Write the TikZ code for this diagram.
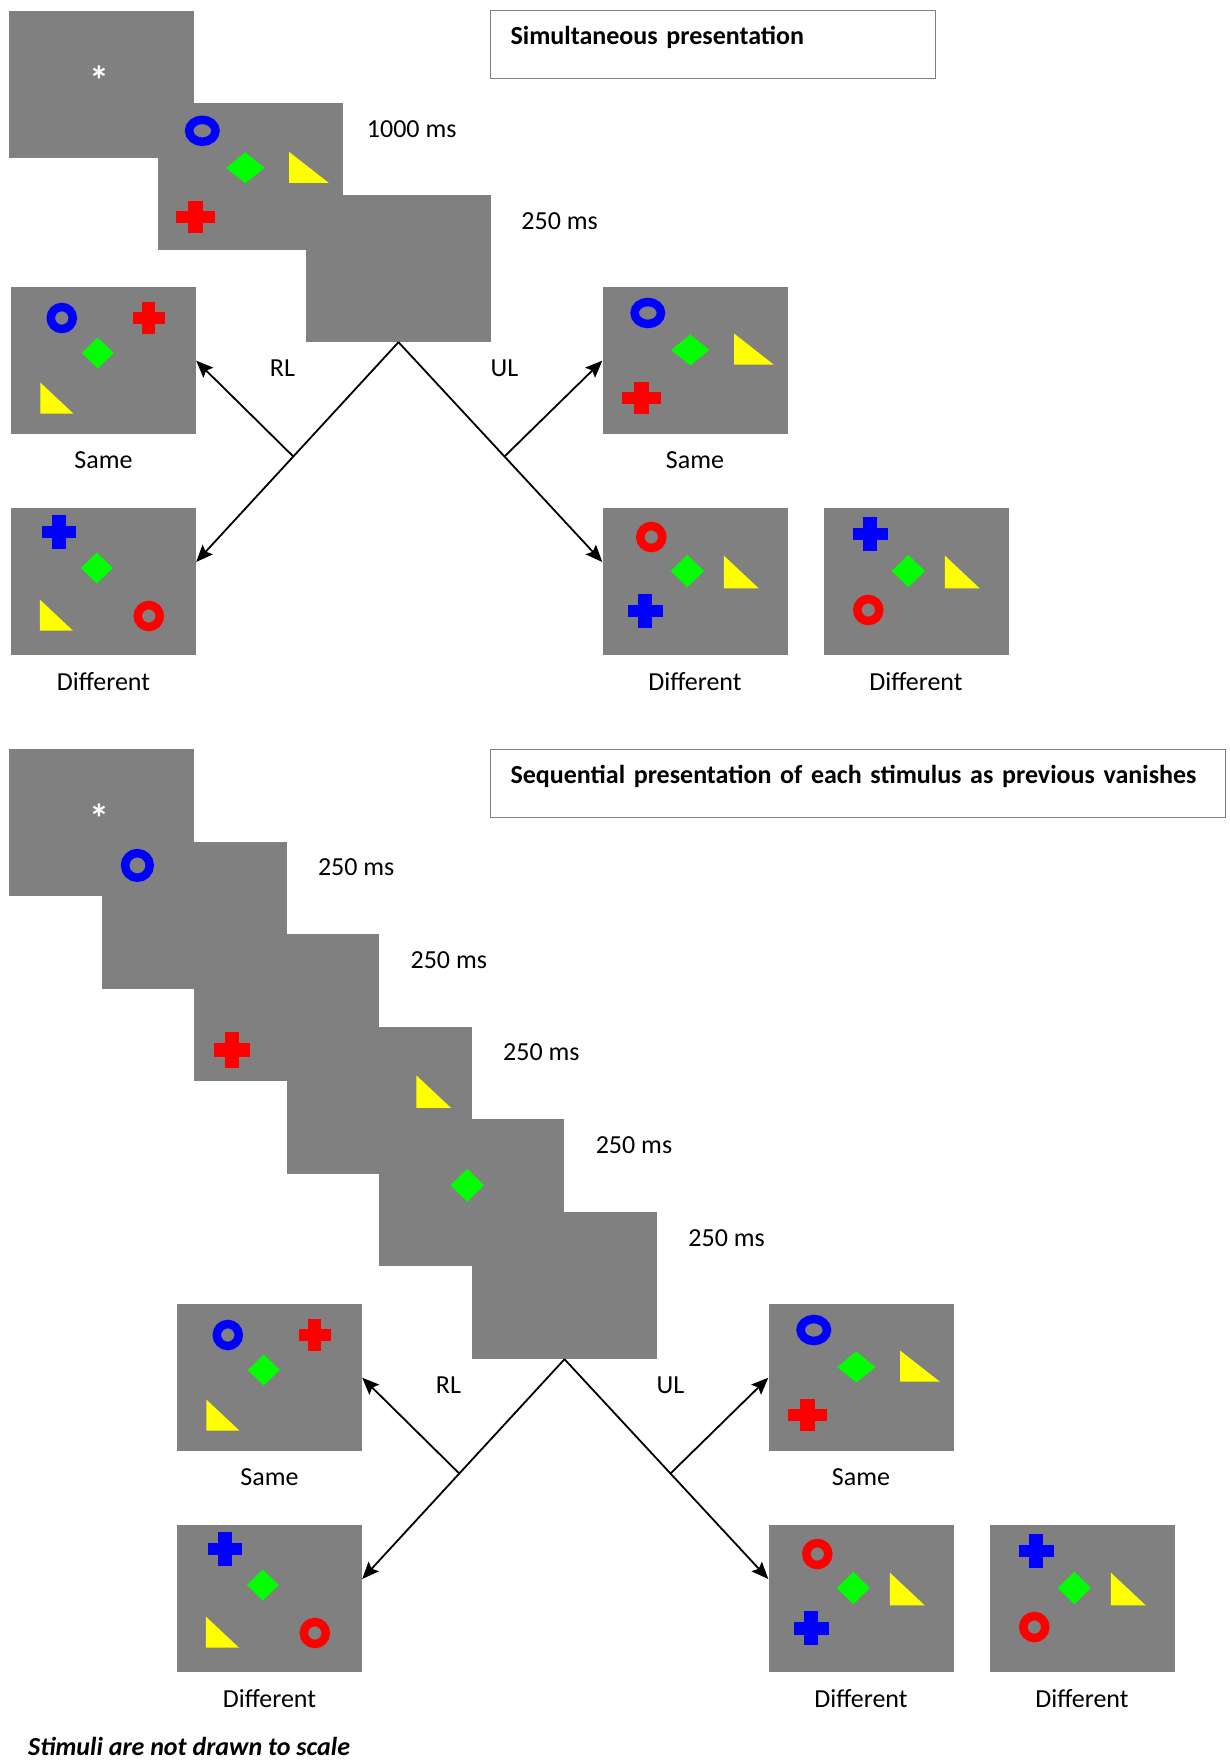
\documentclass[tikz,border=0pt]{standalone}
\usepackage{fontspec}
\setmainfont{Carlito}
\usetikzlibrary{arrows.meta}

\definecolor{screengray}{RGB}{128,128,128}
\definecolor{stimblue}{RGB}{0,0,255}
\definecolor{stimred}{RGB}{255,0,0}
\definecolor{stimgreen}{RGB}{0,255,0}
\definecolor{stimyellow}{RGB}{255,255,0}

\begin{document}
\begin{tikzpicture}[x=1pt, y=-1pt,
        screen/.style = {rectangle, fill=screengray, minimum width=185pt, minimum height=147pt, inner sep=0pt},
        header/.style = {draw=screengray, line width=1.2pt, anchor=north west, align=left, inner xsep=20pt, inner ysep=0pt, text height=34pt, text depth=34pt, font=\fontsize{26}{31}\selectfont\bfseries},
        lbl/.style = {font=\fontsize{26}{31}\selectfont, inner sep=0pt},
        fixmark/.style = {text=white, font=\fontsize{40}{40}\selectfont\bfseries, inner sep=0pt},
        ring/.pic = {\draw[line width=8.5pt] (0,0) ellipse [x radius=11, y radius=11];},
        plus/.pic = {\fill (-16,-6) rectangle (16,6); \fill (-6.5,-16) rectangle (6.5,16);},
        rhombus/.pic = {\fill (-16,0) -- (0,-15.5) -- (16,0) -- (0,15.5) -- cycle;},
        wedge/.pic = {\fill (-16.5,-15.5) -- (-16.5,15.5) -- (16.5,15.5) -- cycle;},
        wide/.style = {xscale=1.2},
        arrow/.style = {line width=1.8pt, -{Stealth[length=17pt, width=14pt, inset=3pt]}}
    ]
    \useasboundingbox (0,0) rectangle (1229,1761);

    % ================= SIMULTANEOUS PRESENTATION =================
    \node[header, text width=405pt] (h-sim) at (490,10) {Simultaneous presentation};
    %
    \node[screen] (t-s0) at (101.5,84.5) {};
    \node[screen] (t-s1) at (250,176.5) {};
    \node[screen] (t-s2) at (398.5,268.5) {};
    %
    \node[fixmark] (t-fix) at ([shift={(91,69)}]t-s0.north west) {*};
    \pic[stimblue, wide] at ([shift={(45,28)}]t-s1.north west) {ring};
    \pic[stimgreen, wide] at ([shift={(88,65)}]t-s1.north west) {rhombus};
    \pic[stimyellow, wide] at ([shift={(151.5,64.5)}]t-s1.north west) {wedge};
    \pic[stimred, wide] at ([shift={(38,114)}]t-s1.north west) {plus};
    %
    \node[lbl, anchor=west] (t-ms1) at ([shift={(24,26)}]t-s1.north east) {1000 ms};
    \node[lbl, anchor=west] (t-ms2) at ([shift={(30,26)}]t-s2.north east) {250 ms};

    % ================= SEQUENTIAL PRESENTATION =================
    \node[header, text width=695pt] (h-seq) at (490,749) {Sequential presentation of each stimulus as previous vanishes};
    %
    \foreach \k in {0,...,5}
        \node[screen] (b-s\k) at (101.5+92.6*\k, 822.5+92.6*\k) {};
    \foreach \k in {1,...,5}
        \node[lbl, anchor=west] (b-ms\k) at ([shift={(31,26)}]b-s\k.north east) {250 ms};
    %
    \node[fixmark] (b-fix) at ([shift={(91,69)}]b-s0.north west) {*};
    \pic[stimblue, scale=1.12] at ([shift={(36,24)}]b-s1.north west) {ring};
    \pic[stimred, scale=1.1] at ([shift={(38,116)}]b-s2.north west) {plus};
    \pic[stimyellow, scale=1.05] at ([shift={(147,65)}]b-s3.north west) {wedge};
    \pic[stimgreen, scale=1.05] at ([shift={(88,66)}]b-s4.north west) {rhombus};

    % ================= SAME / DIFFERENT CHOICES =================
    \foreach \p/\last in {t/2, b/5} {
    \begin{scope}[shift={(\p-s\last.south)}, name prefix=\p-]
        \node[screen] (same-l) at (-295,18.5) {};
        \node[screen] (same-r) at (296.5,18.5) {};
        \node[screen] (diff-l) at (-295,239.5) {};
        \node[screen] (diff-r) at (296.5,239.5) {};
        \node[screen] (diff-r2) at (517.5,239.5) {};
        %
        \node[lbl] (same-l-txt) at ([shift={(0,26)}]same-l.south) {Same};
        \node[lbl] (same-r-txt) at ([shift={(0,26)}]same-r.south) {Same};
        \node[lbl] (diff-l-txt) at ([shift={(0,26)}]diff-l.south) {Different};
        \node[lbl] (diff-r-txt) at ([shift={(0,26)}]diff-r.south) {Different};
        \node[lbl] (diff-r2-txt) at ([shift={(0,26)}]diff-r2.south) {Different};
        \node[lbl] (rl) at (-116,26) {RL};
        \node[lbl] (ul) at (106,26) {UL};
        %
        \coordinate (tip-l) at ([shift={(0,54)}]diff-l.north east);
        \coordinate (tip-r) at ([shift={(0,54)}]diff-r.north west);
        \draw[arrow] (s\last.south) -- coordinate[pos=0.52] (fork-l) (tip-l);
        \draw[arrow] (fork-l) -- (same-l.east);
        \draw[arrow] (s\last.south) -- coordinate[pos=0.52] (fork-r) (tip-r);
        \draw[arrow] (fork-r) -- (same-r.west);
        %
        \pic[stimblue] at ([shift={(51,31)}]same-l.north west) {ring};
        \pic[stimred] at ([shift={(138,31)}]same-l.north west) {plus};
        \pic[stimgreen] at ([shift={(87,66)}]same-l.north west) {rhombus};
        \pic[stimyellow] at ([shift={(46,111)}]same-l.north west) {wedge};
        %
        \pic[stimblue, scale=1.08] at ([shift={(48,24)}]diff-l.north west) {plus};
        \pic[stimgreen] at ([shift={(86,60)}]diff-l.north west) {rhombus};
        \pic[stimyellow] at ([shift={(45.5,107)}]diff-l.north west) {wedge};
        \pic[stimred] at ([shift={(138,108)}]diff-l.north west) {ring};
        %
        \pic[stimblue, wide] at ([shift={(45.5,26)}]same-r.north west) {ring};
        \pic[stimgreen, wide] at ([shift={(88,63)}]same-r.north west) {rhombus};
        \pic[stimyellow, wide] at ([shift={(151.5,62)}]same-r.north west) {wedge};
        \pic[stimred, wide] at ([shift={(39,111)}]same-r.north west) {plus};
        %
        \pic[stimred] at ([shift={(49,29)}]diff-r.north west) {ring};
        \pic[stimgreen, scale=1.04] at ([shift={(85,63)}]diff-r.north west) {rhombus};
        \pic[stimyellow, scale=1.06] at ([shift={(139,64)}]diff-r.north west) {wedge};
        \pic[stimblue, scale=1.08] at ([shift={(43,103)}]diff-r.north west) {plus};
        %
        \pic[stimblue, scale=1.08] at ([shift={(47,26)}]diff-r2.north west) {plus};
        \pic[stimgreen, scale=1.04] at ([shift={(85,63)}]diff-r2.north west) {rhombus};
        \pic[stimyellow, scale=1.06] at ([shift={(139,64)}]diff-r2.north west) {wedge};
        \pic[stimred] at ([shift={(45,102)}]diff-r2.north west) {ring};
    \end{scope}}

    \node[lbl, anchor=base west, font=\fontsize{26}{31}\selectfont\bfseries\itshape] (note) at (28,1755) {Stimuli are not drawn to scale};
\end{tikzpicture}
\end{document}
